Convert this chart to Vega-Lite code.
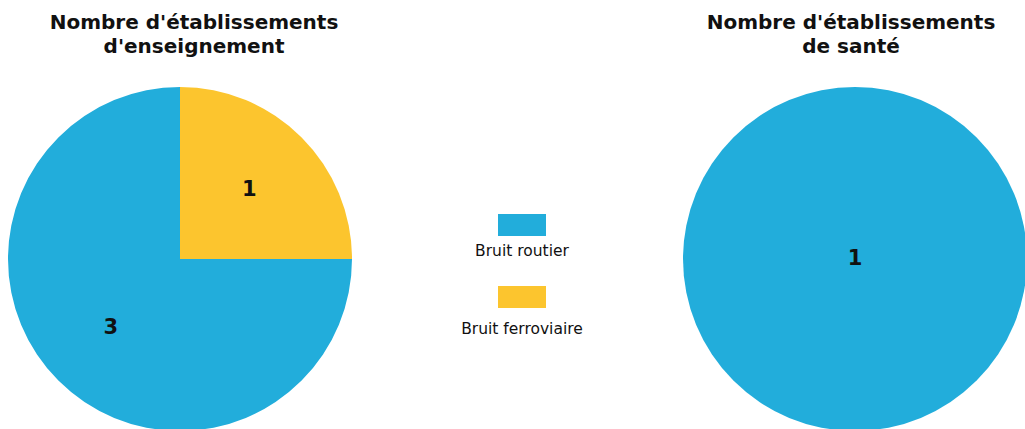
{
  "$schema": "https://vega.github.io/schema/vega-lite/v6.json",
  "background": "white",
  "padding": {"left": 8, "top": 13, "right": 0, "bottom": 0},
  "spacing": 0,
  "bounds": "flush",
  "config": {"view": {"stroke": null}, "font": "DejaVu Sans"},
  "hconcat": [
    {
      "width": 344,
      "height": 344,
      "title": {"text": ["Nombre d'établissements", "d'enseignement"], "fontSize": 20, "fontWeight": "bold", "lineHeight": 24, "anchor": "middle", "offset": 30, "dx": 14, "color": "#111111", "font": "DejaVu Sans"},
      "data": {"values": [
        {"source": "Bruit routier", "nombre": 3},
        {"source": "Bruit ferroviaire", "nombre": 1}
      ]},
      "encoding": {
        "theta": {"field": "nombre", "type": "quantitative", "stack": true},
        "order": {"field": "source", "sort": "ascending"}
      },
      "layer": [
        {
          "mark": {"type": "arc", "outerRadius": 172},
          "encoding": {
            "color": {"field": "source", "type": "nominal", "scale": {"domain": ["Bruit routier", "Bruit ferroviaire"], "range": ["#22ADDB", "#FCC52E"]}, "legend": null}
          }
        },
        {
          "mark": {"type": "text", "radius": 98, "fontSize": 21, "fontWeight": "bold", "color": "#111111"},
          "encoding": {
            "detail": {"field": "source"},
            "text": {"field": "nombre", "type": "quantitative"}
          }
        }
      ]
    },
    {
      "width": 331,
      "height": 344,
      "data": {"values": [
        {"source": "Bruit routier"},
        {"source": "Bruit ferroviaire"}
      ]},
      "layer": [
        {
          "mark": {"type": "point", "shape": "M-1,-0.4583H1V0.4583H-1Z", "size": 2304, "filled": true, "opacity": 1, "xOffset": 4.5},
          "encoding": {
            "y": {"field": "source", "type": "nominal", "sort": null, "scale": {"type": "point", "domain": ["Bruit routier", "Bruit ferroviaire"], "range": [138, 210], "padding": 0}, "axis": null},
            "color": {"field": "source", "type": "nominal", "scale": {"domain": ["Bruit routier", "Bruit ferroviaire"], "range": ["#22ADDB", "#FCC52E"]}, "legend": null}
          }
        },
        {
          "mark": {"type": "text", "fontSize": 15.5, "baseline": "middle", "align": "center", "dx": 4.5, "color": "#111111"},
          "encoding": {
            "y": {"field": "source", "type": "nominal", "sort": null, "scale": {"type": "point", "domain": ["Bruit routier", "Bruit ferroviaire"], "range": [164, 242], "padding": 0}, "axis": null},
            "text": {"field": "source"}
          }
        }
      ],
      "resolve": {"scale": {"y": "independent"}}
    },
    {
      "width": 344,
      "height": 344,
      "title": {"text": ["Nombre d'établissements", "de santé"], "fontSize": 20, "fontWeight": "bold", "lineHeight": 24, "anchor": "middle", "offset": 30, "dx": -4, "color": "#111111", "font": "DejaVu Sans"},
      "data": {"values": [
        {"source": "Bruit routier", "nombre": 1}
      ]},
      "encoding": {
        "theta": {"field": "nombre", "type": "quantitative", "stack": true}
      },
      "layer": [
        {
          "mark": {"type": "arc", "outerRadius": 172},
          "encoding": {
            "color": {"field": "source", "type": "nominal", "scale": {"domain": ["Bruit routier", "Bruit ferroviaire"], "range": ["#22ADDB", "#FCC52E"]}, "legend": null}
          }
        },
        {
          "mark": {"type": "text", "radius": 0, "fontSize": 21, "fontWeight": "bold", "color": "#111111"},
          "encoding": {
            "text": {"field": "nombre", "type": "quantitative"}
          }
        }
      ]
    }
  ]
}
